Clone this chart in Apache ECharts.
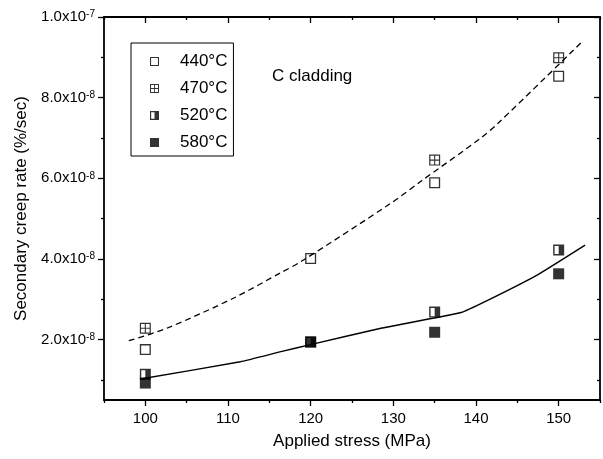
<!DOCTYPE html>
<html>
<head>
<meta charset="utf-8">
<script src="https://cdn.jsdelivr.net/npm/echarts@6/dist/echarts.min.js"></script>
<style>html,body{margin:0;padding:0;background:#fff;}#c{width:603px;height:459px;}</style>
</head>
<body>
<div id="c"></div>
<script>
// ---- data ----
const stress = [100, 120, 135, 150];
const rate440 = [1.75e-8, 4.01e-8, 5.89e-8, 8.53e-8];
const rate470 = [2.28e-8, null, 6.45e-8, 8.99e-8];
const rate520 = [1.14e-8, 1.94e-8, 2.68e-8, 4.22e-8];
const rate580 = [0.92e-8, 1.94e-8, 2.18e-8, 3.63e-8];
const seriesNames = ['440°C', '470°C', '520°C', '580°C'];
const fitDashX = [98, 102.6, 110.7, 116.4, 118.8, 129.7, 133.3, 140.6, 142.7, 152.7];
const fitDashY = [1.97e-8, 2.28e-8, 3.03e-8, 3.66e-8, 3.93e-8, 5.38e-8, 5.92e-8, 7.0e-8, 7.37e-8, 9.36e-8];
const fitSolidX = [99.4, 111.5, 116.4, 120.1, 128.5, 138.2, 141.4, 147.5, 153.2];
const fitSolidY = [1.02e-8, 1.45e-8, 1.70e-8, 1.88e-8, 2.28e-8, 2.67e-8, 2.97e-8, 3.61e-8, 4.34e-8];
const xMajorTicks = [100, 110, 120, 130, 140, 150];
const xMinorTicks = [95, 105, 115, 125, 135, 145, 155];
const yMajorTicks = [2e-8, 4e-8, 6e-8, 8e-8, 1e-7];
const yMinorTicks = [1e-8, 3e-8, 5e-8, 7e-8, 9e-8];
const xRange = [95, 155];
const yRange = [0.5e-8, 1e-7];
const annotation = 'C cladding';
const xName = 'Applied stress (MPa)';
const yName = 'Secondary creep rate (%/sec)';

// ---- symbols (filled black with holes) ----
const symOpen = 'path://M0,0L10,0L10,10L0,10Z M1.2,1.2L1.2,8.8L8.8,8.8L8.8,1.2Z';
const symCross = 'path://M0,0L10,0L10,10L0,10Z M1.1,1.1L1.1,4.5L4.5,4.5L4.5,1.1Z M5.5,1.1L5.5,4.5L8.9,4.5L8.9,1.1Z M1.1,5.5L1.1,8.9L4.5,8.9L4.5,5.5Z M5.5,5.5L5.5,8.9L8.9,8.9L8.9,5.5Z';
const symHalf = 'path://M0,0L10,0L10,10L0,10Z M1.3,1.3L1.3,8.7L5,8.7L5,1.3Z';
const symFull = 'path://M0,0L10,0L10,10L0,10Z';
const symbols = [symOpen, symCross, symHalf, symFull];
const rates = [rate440, rate470, rate520, rate580];

const FONT = 'Liberation Sans, Arial, Helvetica, sans-serif';
const chart = echarts.init(document.getElementById('c'), null, {renderer: 'canvas'});

function pairs(xs, ys) { return xs.map((x, i) => ys[i] == null ? null : [x, ys[i]]).filter(Boolean); }
function yFmt(v) {
  const e = Math.floor(Math.log10(v) + 1e-6);
  const m = (v / Math.pow(10, e)).toFixed(1);
  return '{b|' + m + 'x10}{s|' + e + '}';
}
const lineStyle = {color: '#000', width: 1.8};
function xAx(pos, showLine, ticks, len, inside, name) {
  return {
    type: 'value', position: pos, min: xRange[0], max: xRange[1], gridIndex: 0,
    axisLine: {show: showLine, onZero: false, lineStyle: lineStyle},
    axisTick: {show: true, inside: inside, length: len, customValues: ticks, lineStyle: {color: '#000', width: 1.3}},
    axisLabel: name ? {show: true, customValues: xMajorTicks, color: '#000', fontSize: 15, fontFamily: FONT, margin: 11} : {show: false},
    splitLine: {show: false},
    name: name || '', nameLocation: 'middle', nameGap: 33,
    nameTextStyle: {color: '#000', fontSize: 17, fontFamily: FONT}
  };
}
function yAx(pos, showLine, ticks, len, inside, name) {
  return {
    type: 'value', position: pos, min: yRange[0], max: yRange[1], gridIndex: 0,
    axisLine: {show: showLine, onZero: false, lineStyle: lineStyle},
    axisTick: {show: true, inside: inside, length: len, customValues: ticks, lineStyle: {color: '#000', width: 1.3}},
    axisLabel: name ? {show: true, customValues: yMajorTicks, color: '#000', fontFamily: FONT, margin: 9,
      formatter: yFmt,
      rich: {b: {fontSize: 15, lineHeight: 15, fontFamily: FONT, color: '#000'},
             s: {fontSize: 10, lineHeight: 10, verticalAlign: 'top', fontFamily: FONT, color: '#000'}}} : {show: false},
    splitLine: {show: false},
    name: name || '', nameLocation: 'middle', nameGap: 73,
    nameTextStyle: {color: '#000', fontSize: 17, fontFamily: FONT}
  };
}

const series = seriesNames.map((n, i) => ({
  name: n, type: 'scatter', symbol: symbols[i], symbolSize: 11,
  itemStyle: {color: '#000'}, data: pairs(stress, rates[i]), z: 5 + i
}));
series.push({type: 'line', data: pairs(fitDashX, fitDashY), smooth: 0.3, showSymbol: false, symbol: 'none',
  lineStyle: {color: '#000', width: 1.3, type: [6, 4]}, z: 3, silent: true});
series.push({type: 'line', data: pairs(fitSolidX, fitSolidY), smooth: 0.12, showSymbol: false, symbol: 'none',
  lineStyle: {color: '#000', width: 1.4}, z: 3, silent: true});

chart.setOption({
  animation: false,
  backgroundColor: '#fff',
  grid: {left: 104, right: 3, top: 17, bottom: 59, containLabel: false, outerBoundsMode: 'none'},
  title: {text: annotation, left: 272, top: 68, padding: 0,
    textStyle: {fontSize: 17, fontWeight: 'normal', color: '#000', fontFamily: FONT}},
  legend: {
    orient: 'vertical', left: 131, top: 43, padding: [10, 6, 5, 19], itemGap: 10,
    itemWidth: 9, itemHeight: 9, borderColor: '#000', borderWidth: 1, backgroundColor: '#fff',
    data: seriesNames.map((n, i) => ({name: n, icon: symbols[i]})),
    textStyle: {fontSize: 17, lineHeight: 17, color: '#000', fontFamily: FONT, padding: [0, 0, 0, 16]}
  },
  xAxis: [
    xAx('bottom', true, xMajorTicks, 6, false, xName),
    xAx('bottom', false, xMinorTicks, 3, false, null),
    xAx('top', true, xMajorTicks, 6, true, null),
    xAx('top', false, xMinorTicks, 3, true, null)
  ],
  yAxis: [
    yAx('left', true, yMajorTicks, 6, false, yName),
    yAx('left', false, yMinorTicks, 3, false, null),
    yAx('right', true, yMajorTicks, 6, true, null),
    yAx('right', false, yMinorTicks, 3, true, null)
  ],
  series: series
});
</script>
</body>
</html>
